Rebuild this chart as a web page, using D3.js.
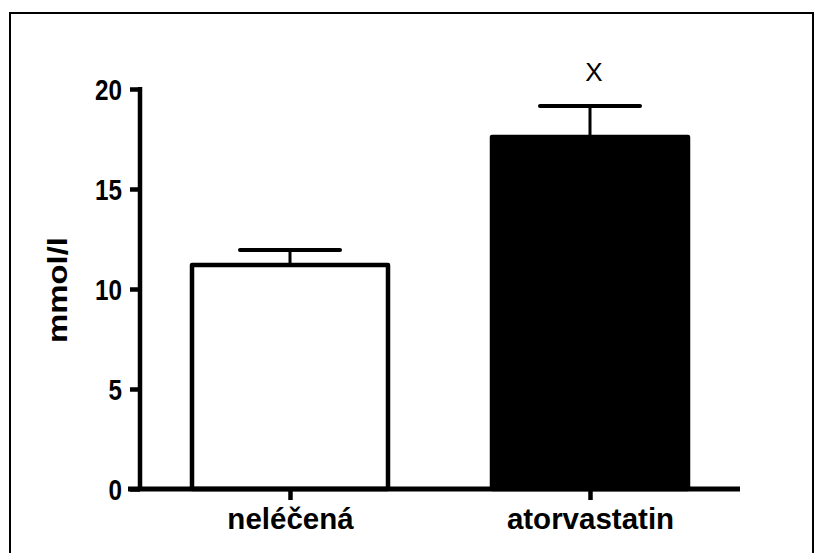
<!DOCTYPE html>
<html>
<head>
<meta charset="utf-8">
<script src="https://cdn.jsdelivr.net/npm/d3@7"></script>
<style>
  body { margin: 0; background: #fff; }
  svg { font-family: "Liberation Sans", Arial, sans-serif; }
</style>
</head>
<body>
<div id="chart"></div>
<script>
// data
var categories = ["neléčená", "atorvastatin"];
var means = [11.2, 17.6];
var errors = [0.75, 1.55];   // upper error (SEM)
var fills = ["#ffffff", "#000000"];
var marks = ["", "X"];
var yTicks = [0, 5, 10, 15, 20];
var yLabel = "mmol/l";

var W = 817, H = 553;

var svg = d3.select("#chart").append("svg")
    .attr("width", W)
    .attr("height", H);

svg.append("rect")
    .attr("width", W).attr("height", H)
    .attr("fill", "#fff");

// frame around the graph (open at the bottom)
svg.append("path")
    .attr("d", "M10,560 L10,13 L813,13 L813,560")
    .attr("fill", "none")
    .attr("stroke", "#000")
    .attr("stroke-width", 2);

var xScale = d3.scalePoint()
    .domain(categories)
    .range([140, 740])
    .padding(0.5);

var yScale = d3.scaleLinear()
    .domain([0, 20])
    .range([489, 89]);

var barW = 196;

// bars
svg.selectAll(".bar")
    .data(categories)
    .enter().append("rect")
    .attr("class", "bar")
    .attr("x", function(d) { return xScale(d) - barW / 2; })
    .attr("y", function(d, i) { return yScale(means[i]); })
    .attr("width", barW)
    .attr("height", function(d, i) { return yScale(0) - yScale(means[i]); })
    .attr("fill", function(d, i) { return fills[i]; })
    .attr("stroke", "#000")
    .attr("stroke-width", 4.5)
    .attr("stroke-linejoin", "round");

// error bars (upper only)
svg.selectAll(".err")
    .data(categories)
    .enter().append("line")
    .attr("class", "err")
    .attr("x1", function(d) { return xScale(d); })
    .attr("x2", function(d) { return xScale(d); })
    .attr("y1", function(d, i) { return yScale(means[i]); })
    .attr("y2", function(d, i) { return yScale(means[i] + errors[i]); })
    .attr("stroke", "#000")
    .attr("stroke-width", 3);

svg.selectAll(".cap")
    .data(categories)
    .enter().append("line")
    .attr("class", "cap")
    .attr("x1", function(d) { return xScale(d) - 50; })
    .attr("x2", function(d) { return xScale(d) + 50; })
    .attr("y1", function(d, i) { return yScale(means[i] + errors[i]); })
    .attr("y2", function(d, i) { return yScale(means[i] + errors[i]); })
    .attr("stroke", "#000")
    .attr("stroke-width", 4)
    .attr("stroke-linecap", "round");

// significance marks
svg.selectAll(".mark")
    .data(categories)
    .enter().append("text")
    .attr("class", "mark")
    .attr("x", function(d) { return xScale(d) + 4; })
    .attr("y", function(d, i) { return yScale(means[i] + errors[i]) - 25; })
    .attr("text-anchor", "middle")
    .attr("font-size", 26)
    .text(function(d, i) { return marks[i]; });

// y axis
var yAxis = svg.append("g")
    .attr("transform", "translate(140,0)")
    .call(d3.axisLeft(yScale).tickValues(yTicks).tickSize(10).tickPadding(8).tickSizeOuter(0));
yAxis.select(".domain").attr("stroke-width", 4.5).attr("d", "M0," + (yScale(20) - 2) + "V" + yScale(0));
yAxis.selectAll(".tick line").attr("stroke-width", 4.5);
yAxis.selectAll(".tick text")
    .attr("font-size", 30)
    .attr("font-weight", "bold")
    .attr("fill", "#000")
    .attr("dy", "0.36em")
    .attr("textLength", function(d) { return String(d).length * 13.5; })
    .attr("lengthAdjust", "spacingAndGlyphs");

// x axis
var xAxis = svg.append("g")
    .attr("transform", "translate(0,489)")
    .call(d3.axisBottom(xScale).tickSize(11).tickPadding(8).tickSizeOuter(0));
xAxis.select(".domain").attr("stroke-width", 5).attr("d", "M128,0H740");
xAxis.selectAll(".tick line").attr("stroke-width", 4.5);
xAxis.selectAll(".tick text")
    .attr("font-size", 29.5)
    .attr("font-weight", "bold")
    .attr("fill", "#000");

// y label
svg.append("text")
    .attr("transform", "translate(67,290) rotate(-90)")
    .attr("text-anchor", "middle")
    .attr("font-size", 27)
    .attr("font-weight", "bold")
    .attr("textLength", 106)
    .attr("lengthAdjust", "spacingAndGlyphs")
    .text(yLabel);
</script>
</body>
</html>
